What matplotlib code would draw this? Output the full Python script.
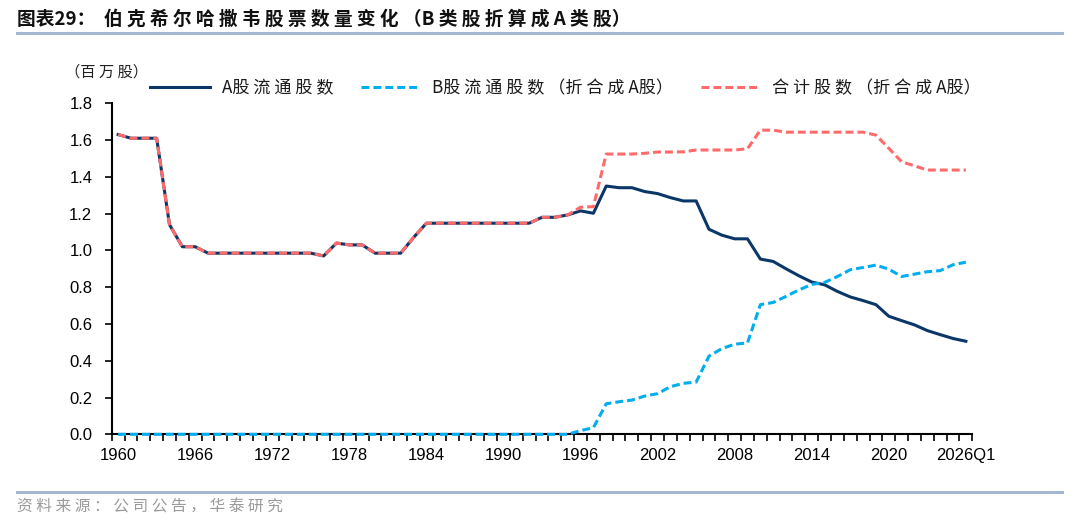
import numpy as np
import matplotlib
matplotlib.use("Agg")
import matplotlib.pyplot as plt
from matplotlib.lines import Line2D

plt.rcParams['font.family'] = ['Noto Sans CJK SC', 'DejaVu Sans']

# ---------------- data ----------------
years = [str(y) for y in range(1960, 2026)] + ["2026Q1"]

a_shares = [1.63, 1.61, 1.61, 1.61, 1.14, 1.02, 1.02, 0.985, 0.985, 0.985,
            0.985, 0.985, 0.985, 0.985, 0.985, 0.985, 0.97, 1.04, 1.03, 1.03,
            0.985, 0.985, 0.985, 1.07, 1.148, 1.148, 1.148, 1.148, 1.148, 1.148,
            1.148, 1.148, 1.148, 1.18, 1.18, 1.193, 1.215, 1.202, 1.350, 1.341,
            1.341, 1.320, 1.309, 1.287, 1.269, 1.269, 1.115, 1.083, 1.063, 1.063,
            0.953, 0.940, 0.900, 0.862, 0.828, 0.813, 0.777, 0.747, 0.727, 0.705,
            0.642, 0.618, 0.595, 0.564, 0.542, 0.521, 0.506]

b_shares = [0.0] * 36 + [0.020, 0.036, 0.166, 0.177, 0.186, 0.208, 0.221, 0.259,
            0.277, 0.284, 0.425, 0.466, 0.490, 0.497, 0.705, 0.717, 0.750, 0.785,
            0.815, 0.826, 0.858, 0.895, 0.907, 0.920, 0.898, 0.858, 0.871, 0.884,
            0.890, 0.922, 0.936]

total_shares = [1.63, 1.61, 1.61, 1.61, 1.14, 1.02, 1.02, 0.985, 0.985, 0.985,
                0.985, 0.985, 0.985, 0.985, 0.985, 0.985, 0.97, 1.04, 1.03, 1.03,
                0.985, 0.985, 0.985, 1.07, 1.148, 1.148, 1.148, 1.148, 1.148, 1.148,
                1.148, 1.148, 1.148, 1.18, 1.18, 1.193, 1.235, 1.238, 1.524, 1.524,
                1.524, 1.528, 1.535, 1.535, 1.536, 1.546, 1.546, 1.546, 1.546, 1.553,
                1.654, 1.654, 1.643, 1.643, 1.643, 1.643, 1.643, 1.643, 1.643, 1.627,
                1.555, 1.482, 1.460, 1.437, 1.437, 1.437, 1.437]

series_names = ["A股 流 通 股 数",
                "B股 流 通 股 数 （折 合 成 A股）",
                "合 计 股 数 （折 合 成 A股）"]
yticks = [0.0, 0.2, 0.4, 0.6, 0.8, 1.0, 1.2, 1.4, 1.6, 1.8]

title = "图表29：  伯 克 希 尔 哈 撒 韦 股 票 数 量 变 化 （B 类 股 折 算 成 A 类 股）"
unit_label = "（百 万 股）"
source = "资 料 来 源 ： 公 司 公 告 ， 华 泰 研 究"

# ---------------- style ----------------
c_a = "#0B3768"
c_b = "#00AEEF"
c_t = "#FF6B6B"
sep_color = "#A3B7D2"
num_font = ['Liberation Sans', 'DejaVu Sans']

fig = plt.figure(figsize=(10.8, 5.25), dpi=100)
W, H = 1080, 525
ax = fig.add_axes([111.7 / W, 1 - 434.3 / H, (972.3 - 111.7) / W, (434.3 - 103.3) / H])

x = np.arange(len(years))
lw = 2.2
dash = (0, (2.6, 1.3))
la, = ax.plot(x, a_shares, color=c_a, lw=lw, solid_joinstyle='round', zorder=3, clip_on=False)
lb, = ax.plot(x, b_shares, color=c_b, lw=lw, linestyle=dash, zorder=4, clip_on=False)
lt, = ax.plot(x, total_shares, color=c_t, lw=lw, linestyle=dash, zorder=5, clip_on=False)

ax.set_xlim(-0.5, len(years) - 0.5)
ax.set_ylim(0, 1.8)

# x ticks at category boundaries, labels at category centres
ax.set_xticks(np.arange(-0.5, len(years), 1.0))
ax.set_xticklabels([])
ax.set_xticks(x[::6], minor=True)
ax.set_xticklabels([years[i] for i in range(0, len(years), 6)], minor=True)
ax.tick_params(axis='x', which='major', direction='out', length=5, width=1.2, color='black')
ax.tick_params(axis='x', which='minor', length=0, pad=10, labelsize=12)
for t in ax.get_xticklabels(minor=True):
    t.set_fontfamily(num_font)

ax.set_yticks(yticks)
ax.set_yticklabels([f"{v:.1f}" for v in yticks])
ax.tick_params(axis='y', direction='out', length=5, width=1.2, pad=9, labelsize=12)
for t in ax.get_yticklabels():
    t.set_fontfamily(num_font)

for s in ['top', 'right']:
    ax.spines[s].set_visible(False)
for s in ['left', 'bottom']:
    ax.spines[s].set_linewidth(1.5)
    ax.spines[s].set_color('black')

# legend
leg = ax.legend([la, lb, lt], series_names, loc='center left',
                bbox_to_anchor=(150 / W, 1 - 88 / H), bbox_transform=fig.transFigure,
                ncol=3, frameon=False, fontsize=12.3, handlelength=3.5,
                handletextpad=0.7, columnspacing=1.6, borderaxespad=0, borderpad=0)
for t in leg.get_texts():
    t.set_color('#1a1a1a')

# header / footer
fig.text(17 / W, 1 - 19 / H, title, fontsize=13.5, fontweight='bold', va='center', ha='left',
         color='#111111')
fig.add_artist(Line2D([17 / W, 1062 / W], [1 - 33 / H, 1 - 33 / H], color=sep_color, lw=2.2))
fig.text(65 / W, 1 - 72 / H, unit_label, fontsize=11, va='center', ha='left', color='#222222')
fig.add_artist(Line2D([17 / W, 1062 / W], [1 - 492 / H, 1 - 492 / H], color=sep_color, lw=2.2))
fig.text(17 / W, 1 - 507 / H, source, fontsize=11.3, va='center', ha='left', color='#9A9A9A')

fig.savefig("out.png", dpi=100)
